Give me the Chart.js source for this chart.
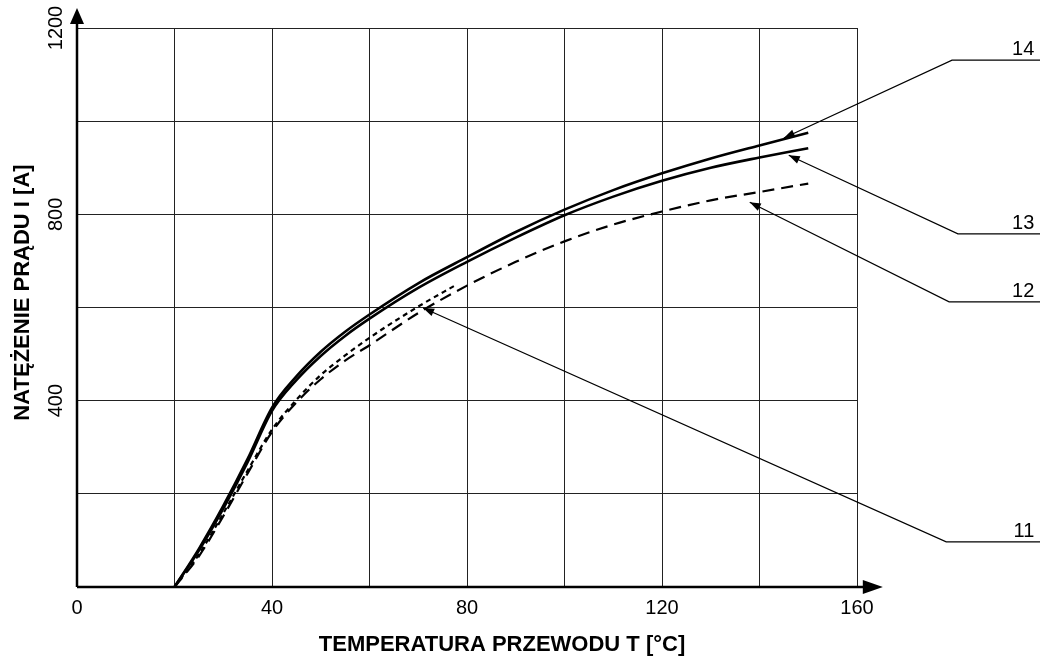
<!DOCTYPE html>
<html lang="pl">
<head>
    <meta charset="UTF-8">
    <title>Natężenie prądu a temperatura przewodu</title>
    <script src="https://cdn.jsdelivr.net/npm/chart.js"></script>
    <style>
        body {
            margin: 0;
            background: #fff;
        }
        .chart-container {
            width: 1040px;
            height: 662px;
        }
    </style>
</head>
<body>
    <div class="chart-container">
        <canvas id="currentChart" width="1040" height="662"></canvas>
    </div>

    <script>
        // temperatura przewodu [°C]
        const tempsMain = [20, 25, 30, 35, 40, 45, 50, 55, 60, 70, 80, 90, 100, 110, 120, 130, 140, 150];
        const temps11 = [20, 25, 30, 35, 40, 45, 50, 55, 60, 70, 78];

        // natężenie prądu [A]
        const current14 = [0, 82, 174, 275, 385, 452, 505, 548, 585, 652, 708, 762, 810, 852, 888, 920, 948, 975];
        const current13 = [0, 78, 168, 268, 378, 444, 496, 539, 576, 642, 698, 750, 798, 838, 872, 900, 922, 942];
        const current12 = [0, 66, 152, 244, 333, 396, 446, 486, 519, 588, 647, 698, 742, 778, 806, 830, 848, 866];
        const current11 = [0, 70, 158, 250, 338, 402, 455, 497, 535, 602, 650];

        const xTicks = [0, 40, 80, 120, 160];
        const yTicks = [400, 800, 1200];

        const xTitle = 'TEMPERATURA PRZEWODU T [°C]';
        const yTitle = 'NATĘŻENIE PRĄDU I [A]';

        // odnośniki z numerami krzywych (w jednostkach osi)
        const leaderNames = ['14', '13', '12', '11'];
        const leaderTips = [[145, 964], [146, 927], [138, 826], [71, 599]];
        const leaderCorners = [[179.5, 1131], [180.7, 758], [178.9, 612], [178.3, 97]];
        const leaderEndT = 197.8;
        const axisArrowEnd = [165.3, 1243];

        const toPoints = (xs, ys) => xs.map((t, i) => ({ x: t, y: ys[i] }));

        function arrowHead(ctx, tx, ty, angle, len, half) {
            const c = Math.cos(angle), s = Math.sin(angle);
            ctx.beginPath();
            ctx.moveTo(tx, ty);
            ctx.lineTo(tx - len * c + half * s, ty - len * s - half * c);
            ctx.lineTo(tx - len * c - half * s, ty - len * s + half * c);
            ctx.closePath();
            ctx.fill();
        }

        const extras = {
            id: 'extras',
            afterDraw(chart) {
                const { ctx, chartArea, scales: { x, y } } = chart;
                const x0 = x.getPixelForValue(0);
                const y0 = y.getPixelForValue(0);
                const xEnd = x.getPixelForValue(axisArrowEnd[0]);
                const yEnd = y.getPixelForValue(axisArrowEnd[1]);
                ctx.save();
                ctx.strokeStyle = '#000';
                ctx.fillStyle = '#000';

                // osie ze strzałkami
                ctx.lineWidth = 2.5;
                ctx.beginPath();
                ctx.moveTo(x0, y0);
                ctx.lineTo(xEnd - 6, y0);
                ctx.moveTo(x0, y0);
                ctx.lineTo(x0, yEnd + 6);
                ctx.stroke();
                arrowHead(ctx, xEnd, y0, 0, 20, 7);
                arrowHead(ctx, x0, yEnd, -Math.PI / 2, 16, 7);

                // tytuły osi
                ctx.font = 'bold 22px "Liberation Sans", Arial, sans-serif';
                ctx.textAlign = 'center';
                ctx.textBaseline = 'middle';
                ctx.fillText(xTitle, (chartArea.left + chartArea.right) / 2 + 35, chartArea.bottom + 58);
                ctx.save();
                ctx.translate(chartArea.left - 54, (chartArea.top + chartArea.bottom) / 2 - 15);
                ctx.rotate(-Math.PI / 2);
                ctx.fillText(yTitle, 0, 0);
                ctx.restore();

                // odnośniki
                ctx.lineWidth = 1.2;
                ctx.font = '20px "Liberation Sans", Arial, sans-serif';
                ctx.textAlign = 'right';
                ctx.textBaseline = 'alphabetic';
                leaderNames.forEach((name, i) => {
                    const tx = x.getPixelForValue(leaderTips[i][0]);
                    const ty = y.getPixelForValue(leaderTips[i][1]);
                    const cx = x.getPixelForValue(leaderCorners[i][0]);
                    const cy = y.getPixelForValue(leaderCorners[i][1]);
                    const ex = x.getPixelForValue(leaderEndT);
                    ctx.beginPath();
                    ctx.moveTo(ex, cy);
                    ctx.lineTo(cx, cy);
                    ctx.lineTo(tx, ty);
                    ctx.stroke();
                    arrowHead(ctx, tx, ty, Math.atan2(ty - cy, tx - cx), 11, 4);
                    ctx.fillText(name, ex - 7, cy - 5);
                });
                ctx.restore();
            }
        };

        Chart.defaults.font.family = '"Liberation Sans", Arial, sans-serif';
        Chart.defaults.color = '#000';

        const lineStyle = {
            borderColor: '#000',
            pointRadius: 0,
            fill: false,
            cubicInterpolationMode: 'monotone'
        };

        new Chart(document.getElementById('currentChart'), {
            type: 'line',
            data: {
                datasets: [
                    { ...lineStyle, label: '14', data: toPoints(tempsMain, current14), borderWidth: 2.6 },
                    { ...lineStyle, label: '13', data: toPoints(tempsMain, current13), borderWidth: 2.6 },
                    { ...lineStyle, label: '12', data: toPoints(tempsMain, current12), borderWidth: 2.2, borderDash: [12, 7] },
                    { ...lineStyle, label: '11', data: toPoints(temps11, current11), borderWidth: 2.2, borderDash: [5, 4] }
                ]
            },
            options: {
                responsive: false,
                animation: false,
                layout: { padding: { top: 28, right: 183, bottom: 0, left: 0 } },
                plugins: {
                    legend: { display: false },
                    tooltip: { enabled: false }
                },
                scales: {
                    x: {
                        type: 'linear',
                        min: 0,
                        max: 160,
                        afterFit(scale) { scale.height = 75; },
                        border: { display: false },
                        grid: { color: '#222', lineWidth: 1, drawTicks: false },
                        ticks: {
                            stepSize: 20,
                            padding: 9,
                            font: { size: 20 },
                            callback: v => xTicks.includes(v) ? v : ''
                        }
                    },
                    y: {
                        min: 0,
                        max: 1200,
                        afterFit(scale) { scale.width = 77; },
                        border: { display: false },
                        grid: { color: '#222', lineWidth: 1, drawTicks: false },
                        ticks: {
                            stepSize: 200,
                            minRotation: 90,
                            maxRotation: 90,
                            crossAlign: 'center',
                            padding: -2,
                            font: { size: 20 },
                            callback: v => yTicks.includes(v) ? v : ''
                        }
                    }
                }
            },
            plugins: [extras]
        });
    </script>
</body>
</html>
